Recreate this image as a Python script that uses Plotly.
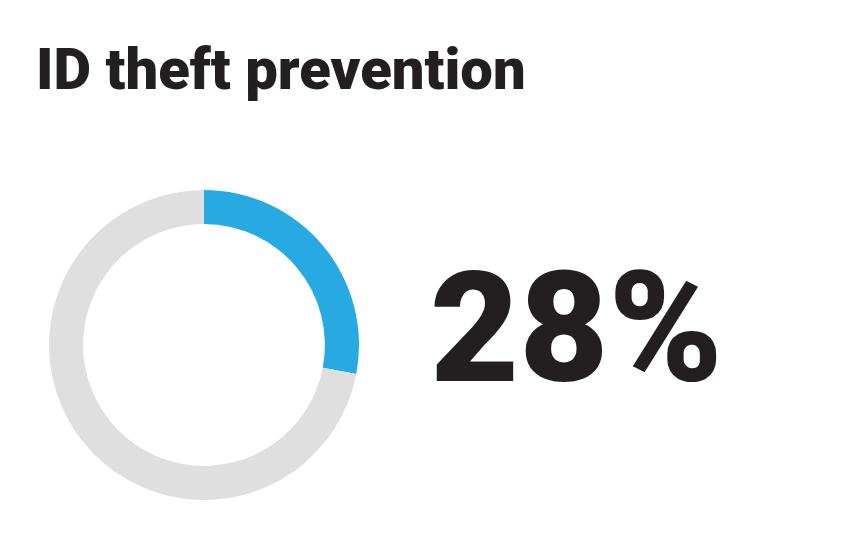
import plotly.graph_objects as go

# donut data
labels = ["ID theft prevention", "Other"]
values = [28, 72]
colors = ["#27AAE1", "#DFDFDF"]
title_text = "ID theft prevention"
pct_text = "28%"

W, H = 844, 550
OFF = 8  # page body margin

fig = go.Figure(go.Pie(
    labels=labels,
    values=values,
    hole=0.78,
    sort=False,
    direction="clockwise",
    rotation=0,
    marker=dict(colors=colors, line=dict(width=0)),
    textinfo="none",
    hoverinfo="label+percent",
    showlegend=False,
    domain=dict(x=[(49 - OFF) / W, (359 - OFF) / W],
                y=[1 - (500 - OFF) / H, 1 - (190 - OFF) / H]),
))

fig.add_annotation(
    text=title_text, xref="paper", yref="paper",
    x=(34 - OFF) / W, y=1 - (69 - OFF) / H, xanchor="left", yanchor="middle",
    showarrow=False,
    font=dict(family="Roboto", size=58, color="#231F20", weight=900),
)
fig.add_annotation(
    text=pct_text, xref="paper", yref="paper",
    x=(576 - OFF) / W, y=1 - (328 - OFF) / H, xanchor="center", yanchor="middle",
    showarrow=False,
    font=dict(family="Roboto", size=154, color="#231F20", weight=900),
)

fig.update_layout(
    width=W, height=H,
    margin=dict(l=0, r=0, t=0, b=0),
    paper_bgcolor="white",
    plot_bgcolor="white",
)

fig.write_html("out.html")
